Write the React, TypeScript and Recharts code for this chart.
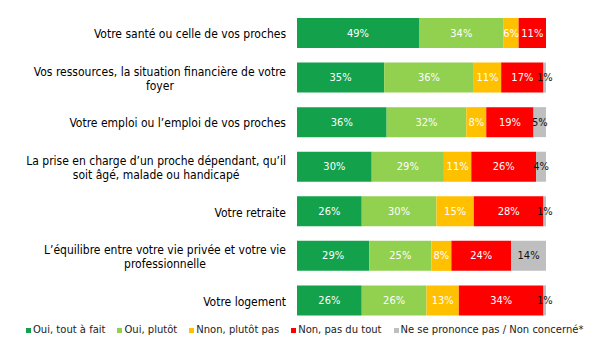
import { Bar, BarChart, LabelList, XAxis, YAxis } from 'recharts';

const categories = [
  'Votre santé ou celle de vos proches',
  'Vos ressources, la situation financière de votre\nfoyer',
  'Votre emploi ou l’emploi de vos proches',
  'La prise en charge d’un proche dépendant, qu’il\nsoit âgé, malade ou handicapé',
  'Votre retraite',
  'L’équilibre entre votre vie privée et votre vie\nprofessionnelle',
  'Votre logement',
];

const seriesNames = [
  'Oui, tout à fait',
  'Oui, plutôt',
  'Nnon, plutôt pas',
  'Non, pas du tout',
  'Ne se prononce pas / Non concerné*',
];

const toutAFait = [49, 35, 36, 30, 26, 29, 26];
const plutot = [34, 36, 32, 29, 30, 25, 26];
const plutotPas = [6, 11, 8, 11, 15, 8, 13];
const pasDuTout = [11, 17, 19, 26, 28, 24, 34];
const nsp = [0, 1, 5, 4, 1, 14, 1];

const colors = ['#13a24b', '#92d050', '#ffc000', '#ff0000', '#bfbfbf'];
const keys = ['s0', 's1', 's2', 's3', 's4'];
const FONT = "'DejaVu Sans Condensed', 'DejaVu Sans', sans-serif";

const data = categories.map((name, i) => ({
  name,
  s0: toutAFait[i],
  s1: plutot[i],
  s2: plutotPas[i],
  s3: pasDuTout[i],
  s4: nsp[i],
}));

const CategoryTick = (props: any) => {
  const { x, y, payload } = props;
  return (
    <foreignObject x={x - 290} y={y - 19} width={290} height={40}>
      <div
        style={{
          display: 'flex',
          justifyContent: 'flex-end',
          alignItems: 'center',
          height: '100%',
          fontFamily: FONT,
          fontSize: 12,
          color: '#000',
        }}
      >
        <div style={{ textAlign: 'center', whiteSpace: 'pre-line', lineHeight: '14px' }}>
          {payload.value}
        </div>
      </div>
    </foreignObject>
  );
};

const makeLabel = (dark: boolean) => (props: any) => {
  const { x, y, width, height, value } = props;
  if (!value) return null;
  return (
    <text
      x={x + width / 2}
      y={y + height / 2}
      textAnchor="middle"
      dominantBaseline="central"
      fill={dark ? '#111' : '#fff'}
      fontFamily={FONT}
      fontSize={11}
    >
      {value}%
    </text>
  );
};

export default function App() {
  return (
    <div style={{ position: 'absolute', left: 0, top: 0, width: 600, height: 351, background: '#fff' }}>
      <BarChart
        width={600}
        height={351}
        data={data}
        layout="vertical"
        margin={{ top: 11, right: 54, bottom: 28, left: 0 }}
        barSize={30}
      >
        <XAxis type="number" domain={[0, 100]} hide />
        <YAxis
          type="category"
          dataKey="name"
          width={297}
          axisLine={false}
          tickLine={false}
          tickSize={0}
          tickMargin={11}
          tick={<CategoryTick />}
          interval={0}
        />
        {keys.map((k, i) => (
          <Bar key={k} dataKey={k} stackId="a" fill={colors[i]} isAnimationActive={false}>
            <LabelList dataKey={k} content={makeLabel(i === 4)} />
          </Bar>
        ))}
      </BarChart>
      <div
        style={{
          position: 'absolute',
          left: 26,
          top: 323,
          display: 'flex',
          alignItems: 'center',
          fontFamily: "'DejaVu Sans', sans-serif",
          fontSize: 10,
          lineHeight: '14px',
          color: '#222',
          whiteSpace: 'nowrap',
        }}
      >
        {seriesNames.map((n, i) => (
          <div key={n} style={{ display: 'flex', alignItems: 'center', marginRight: 12 }}>
            <span style={{ width: 5, height: 5, background: colors[i], marginRight: 2, display: 'inline-block' }} />
            <span>{n}</span>
          </div>
        ))}
      </div>
    </div>
  );
}
